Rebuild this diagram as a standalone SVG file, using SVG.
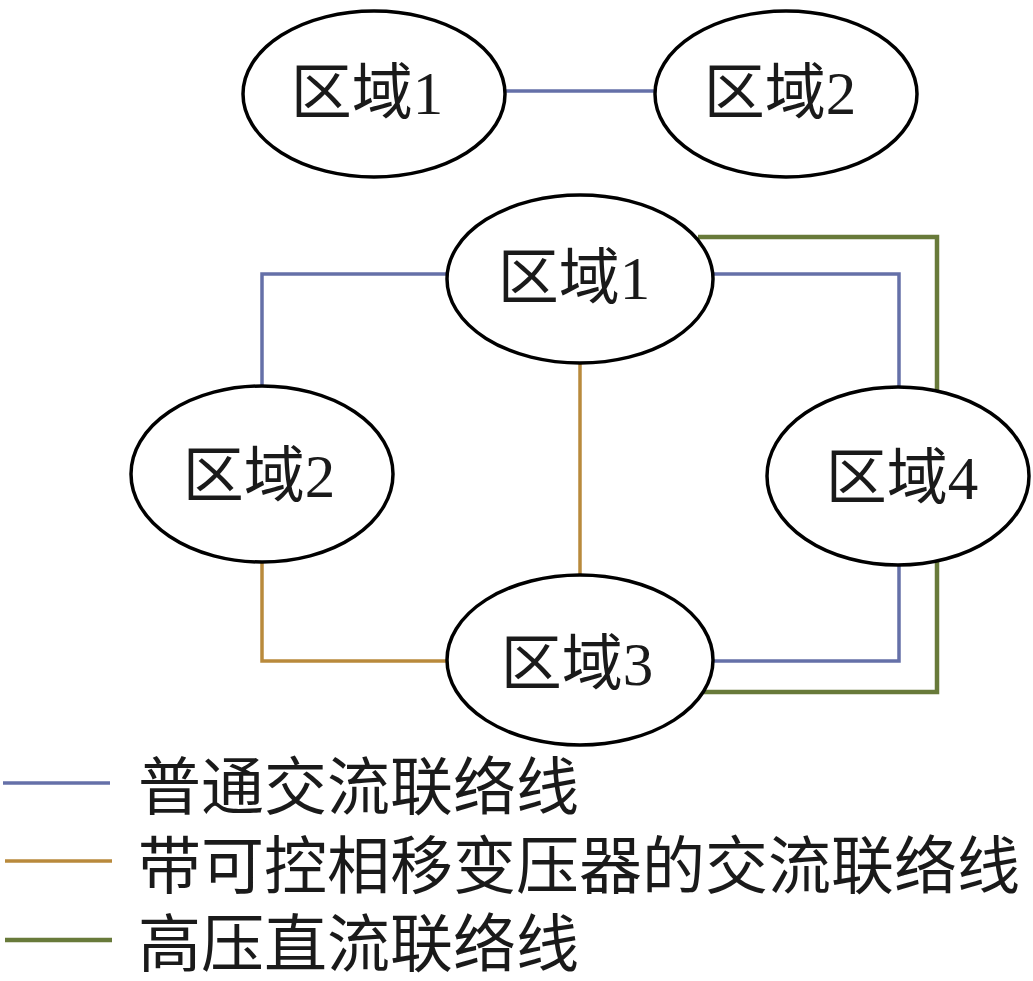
<svg xmlns="http://www.w3.org/2000/svg" width="1033" height="981" viewBox="0 0 1033 981">
<style>
.node ellipse{fill:#fff;stroke:#000;stroke-width:3.5}
.lbl{font-family:"Liberation Serif","Noto Sans CJK SC",serif;font-size:61px;fill:#1a1a1a;text-anchor:middle}
.leg{font-family:"Liberation Serif","Noto Sans CJK SC",serif;font-size:63px;fill:#1a1a1a}
.ac{fill:none;stroke:#6570A8;stroke-width:3.5}
.pst{fill:none;stroke:#B98A3C;stroke-width:3.5}
.dc{fill:none;stroke:#687A3A;stroke-width:4.5}
</style>
<g id="connectors">
<path class="ac" d="M505,91 H655"/>
<path class="ac" d="M448,274 H262 V387"/>
<path class="pst" d="M262,562 V661 H448"/>
<path class="pst" d="M580,362 V575"/>
<path class="ac" d="M712,274 H899 V387"/>
<path class="dc" d="M698,237 H937 V392"/>
<path class="ac" d="M899,561 V661 H711"/>
<path class="dc" d="M937,557 V692 H701"/>
</g>
<g id="n_top1" class="node"><ellipse cx="374" cy="94" rx="131" ry="83"/><text class="lbl" x="367" y="114">区域1</text></g>
<g id="n_top2" class="node"><ellipse cx="786" cy="94" rx="131" ry="83"/><text class="lbl" x="780" y="114">区域2</text></g>
<g id="n_1" class="node"><ellipse cx="580" cy="279" rx="133" ry="84"/><text class="lbl" x="574" y="299">区域1</text></g>
<g id="n_2" class="node"><ellipse cx="262" cy="474" rx="131" ry="88"/><text class="lbl" x="259" y="497">区域2</text></g>
<g id="n_4" class="node"><ellipse cx="898" cy="476" rx="131" ry="89"/><text class="lbl" x="902" y="499">区域4</text></g>
<g id="n_3" class="node"><ellipse cx="580" cy="660" rx="133" ry="85"/><text class="lbl" x="577" y="685">区域3</text></g>
<g id="legend">
<path class="ac" d="M3,783 H110"/>
<path class="pst" d="M5,861 H112"/>
<path class="dc" d="M5,940 H112"/>
<text class="leg" x="138" y="809">普通交流联络线</text>
<text class="leg" x="138" y="888">带可控相移变压器的交流联络线</text>
<text class="leg" x="138" y="966">高压直流联络线</text>
</g>
</svg>
